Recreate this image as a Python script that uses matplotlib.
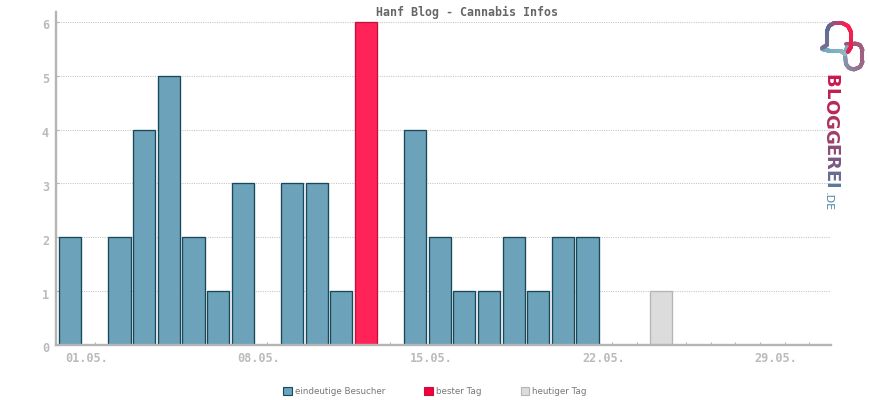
import numpy as np
import matplotlib
matplotlib.use("Agg")
import matplotlib.pyplot as plt
from matplotlib.patches import Patch
from matplotlib.collections import LineCollection
from matplotlib.colors import LinearSegmentedColormap
from matplotlib.transforms import ScaledTranslation

# --- Daten ---
days = np.arange(1, 32)
visitors = [2, 0, 2, 4, 5, 2, 1, 3, 0, 3, 3, 1, 6, 0, 4, 2, 1, 1, 2, 1, 2, 2, 0, 0, 1, 0, 0, 0, 0, 0, 0]
best_day = 13
today = 25
day_labels = ["01.05.", "08.05.", "15.05.", "22.05.", "29.05."]
label_days = [1, 8, 15, 22, 29]
legend_labels = ["eindeutige Besucher", "bester Tag", "heutiger Tag"]
title = "Hanf Blog - Cannabis Infos"

GREY = "#b5b5b5"
BLUE, BLUE_EDGE = "#6ca2ba", "#17495b"
RED, RED_EDGE = "#ff2358", "#c4103f"
LIGHT = "#dcdcdc"

plt.rcParams["font.family"] = "DejaVu Sans Mono"

fig = plt.figure(figsize=(8.7, 4), dpi=100)
W, H = 870, 400
ax = fig.add_axes([56 / W, 1 - 345 / H, 775 / W, 333 / H])
ax.set_xlim(0.419, 31.886)
ax.set_ylim(0, 6.185)

# --- Balken ---
for d, v in zip(days, visitors):
    if v == 0:
        continue
    if d == best_day:
        fc, ec = RED, RED_EDGE
    elif d == today:
        fc, ec = LIGHT, GREY
    else:
        fc, ec = BLUE, BLUE_EDGE
    ax.bar(d, v, width=0.9, facecolor=fc, edgecolor=ec, linewidth=0.95, zorder=2)

# --- Achsen ---
for s in ["top", "right"]:
    ax.spines[s].set_visible(False)
for s in ["left", "bottom"]:
    ax.spines[s].set_color(GREY)
    ax.spines[s].set_linewidth(1.7)
    ax.spines[s].set_zorder(3)

ax.set_yticks(range(0, 7))
ax.grid(axis="y", color="#c4c4c4", linestyle=(0, (1, 1.2)), linewidth=0.75, zorder=1)
ax.set_axisbelow(True)
ax.tick_params(axis="y", direction="in", length=2.2, width=0.8, color=GREY, labelcolor="#bbbbbb", labelsize=8.6, pad=5)
for lab in ax.get_yticklabels():
    lab.set_fontweight("bold")
    lab.set_transform(lab.get_transform() + ScaledTranslation(0, -2.5 / 100, fig.dpi_scale_trans))

ax.set_xticks(days, minor=True)
ax.set_xticks(label_days, day_labels)
ax.tick_params(axis="x", which="both", direction="in", length=2.2, width=0.8, color=GREY)
ax.tick_params(axis="x", which="major", labelcolor="#bbbbbb", labelsize=8.6, pad=5)
for lab in ax.get_xticklabels():
    lab.set_ha("left")
    lab.set_fontweight("bold")
    lab.set_transform(lab.get_transform() + ScaledTranslation(-5.5 / 100, 0, fig.dpi_scale_trans))

fig.text(467.5 / W, 1 - 12 / H, title, ha="center", va="center", fontsize=8.4, fontweight="bold", color="#666666")

# --- Legende ---
handles = [Patch(facecolor=BLUE, edgecolor=BLUE_EDGE, linewidth=0.8),
           Patch(facecolor="#f5003f", edgecolor="#c4103f", linewidth=0.8),
           Patch(facecolor=LIGHT, edgecolor=GREY, linewidth=0.8)]
fig.legend(handles, legend_labels, ncol=3, frameon=False, loc="center", bbox_to_anchor=(435 / W, 1 - 391.5 / H),
           prop={"family": "DejaVu Sans", "size": 6.3}, labelcolor="#777777", handlelength=0.95, handleheight=1.0,
           handletextpad=0.35, columnspacing=4.5, borderpad=0, borderaxespad=0)

# --- Logo ---
logo = fig.add_axes([0, 0, 1, 1], facecolor="none")
logo.set_xlim(0, W)
logo.set_ylim(H, 0)
logo.axis("off")

def ribbon(xs, ys, colors):
    n = 80
    t = np.linspace(0, 1, len(xs))
    tt = np.linspace(0, 1, n)
    x = np.interp(tt, t, xs)
    y = np.interp(tt, t, ys)
    pts = np.column_stack([x, y]).reshape(-1, 1, 2)
    segs = np.concatenate([pts[:-1], pts[1:]], axis=1)
    cmap = LinearSegmentedColormap.from_list("r", colors)
    lc = LineCollection(segs, cmap=cmap, linewidths=2.9, capstyle="round")
    lc.set_array(tt[:-1])
    logo.add_collection(lc)

ribbon([846, 855, 860, 862.5, 862.5, 860, 854, 849, 846, 845, 847],
       [43.5, 43.5, 45, 50, 62, 67, 69.5, 68, 64, 55, 47],
       ["#a5506f", "#9a6a8a", "#7fa5b8"])
ribbon([822, 830, 841, 845], [49, 51, 51, 54], ["#6ca8bc", "#8fb8c8"])
ribbon([822, 827, 827, 829, 834, 842, 848, 851, 851, 848],
       [48, 45, 31, 26, 23, 23, 26, 32, 47, 52],
       ["#7f6f90", "#5c6c92", "#ff1f50", "#e01f50"])

brand = "BLOGGEREI"
brand_colors = ["#c8184f", "#c01f52", "#b82856", "#ac335c", "#a03e66", "#8c4c74", "#785a82", "#686a90", "#5a7a9c"]
brand_y = [74, 87.7, 99.2, 114.5, 129.3, 144.1, 156.3, 170.2, 182.4]
for ch, c, y in zip(brand, brand_colors, brand_y):
    logo.text(830, y, ch, rotation=-90, ha="center", va="top", fontsize=13, fontweight="bold",
              family="DejaVu Sans", color=c)
logo.text(827.5, 192, ".DE", rotation=-90, ha="center", va="top", fontsize=8, family="DejaVu Sans", color="#4d86a8")

fig.savefig("out.png", dpi=100)
